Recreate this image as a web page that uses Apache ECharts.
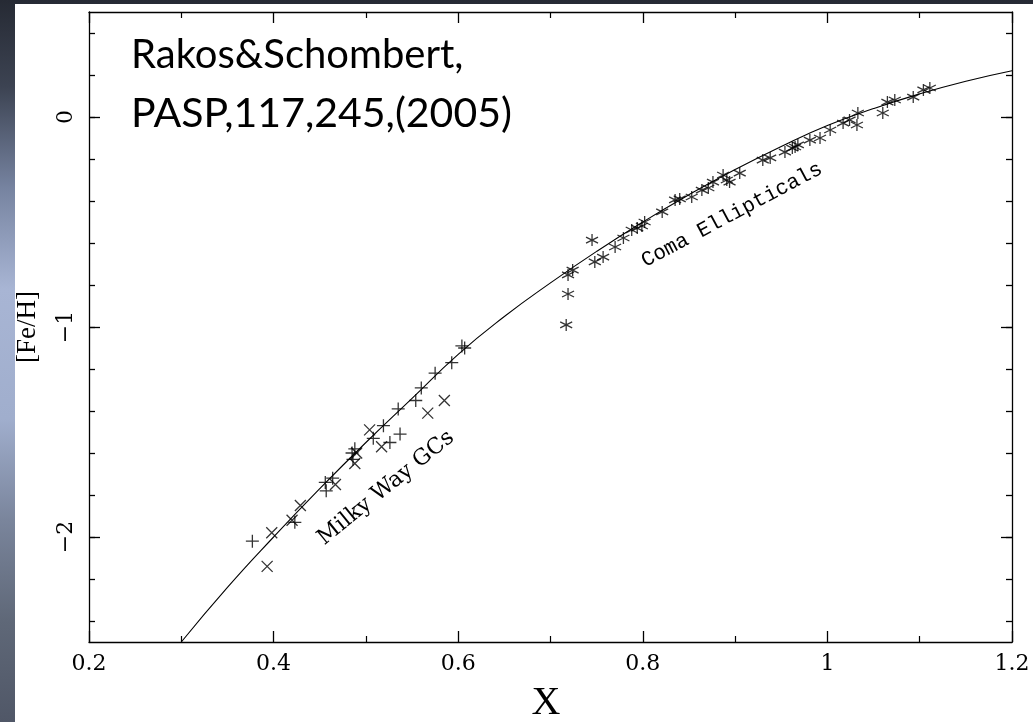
<!DOCTYPE html>
<html>
<head>
<meta charset="utf-8">
<script src="https://cdn.jsdelivr.net/npm/echarts@6/dist/echarts.min.js"></script>
<style>
  html, body { margin: 0; padding: 0; width: 1033px; height: 722px; overflow: hidden; }
  body { background: linear-gradient(to bottom, #262a34 0%, #3c4352 12%, #7683a0 26%, #a8b5d4 40%, #a0aecd 58%, #7a859c 72%, #5f6878 86%, #505767 100%); }
  #chart { position: absolute; left: 15px; top: 4px; width: 1018px; height: 718px; background: #ffffff; }
</style>
</head>
<body>
<div id="chart"></div>
<script>
// Fitted relation
const curveX = [0.30, 0.35, 0.40, 0.45, 0.50, 0.55, 0.60, 0.65, 0.70, 0.75, 0.80, 0.85, 0.90, 0.95, 1.00, 1.05, 1.10, 1.15, 1.20];
const curveY = [-2.50, -2.24, -2.00, -1.77, -1.55, -1.34, -1.13, -0.95, -0.79, -0.64, -0.50, -0.37, -0.25, -0.14, -0.04, 0.04, 0.11, 0.17, 0.22];

// Milky Way globular clusters, "+" symbols
const gcPlus = [
  [0.377, -2.02], [0.423, -1.93], [0.456, -1.74], [0.457, -1.78], [0.464, -1.72],
  [0.485, -1.60], [0.486, -1.63], [0.488, -1.58], [0.508, -1.53], [0.519, -1.47],
  [0.526, -1.55], [0.535, -1.39], [0.537, -1.51], [0.554, -1.35], [0.560, -1.29],
  [0.575, -1.22], [0.593, -1.17], [0.604, -1.09], [0.607, -1.10]
];
// Milky Way globular clusters, "x" symbols
const gcCross = [
  [0.398, -1.98], [0.393, -2.14], [0.420, -1.92], [0.429, -1.85], [0.467, -1.75],
  [0.490, -1.60], [0.488, -1.65], [0.504, -1.49], [0.517, -1.57], [0.567, -1.41],
  [0.585, -1.35]
];
// Coma ellipticals, "*" symbols
const comaStar = [
  [0.719, -0.843], [0.717, -0.990], [0.719, -0.752], [0.724, -0.729], [0.745, -0.586],
  [0.748, -0.690], [0.757, -0.667], [0.770, -0.619], [0.779, -0.576], [0.788, -0.538],
  [0.794, -0.529], [0.799, -0.519], [0.802, -0.500], [0.821, -0.452], [0.835, -0.395],
  [0.840, -0.390], [0.853, -0.381], [0.864, -0.348], [0.871, -0.338], [0.876, -0.310],
  [0.887, -0.276], [0.891, -0.300], [0.894, -0.310], [0.905, -0.267], [0.930, -0.205],
  [0.938, -0.195], [0.954, -0.167], [0.962, -0.148], [0.965, -0.143], [0.968, -0.133],
  [0.981, -0.110], [0.992, -0.100], [1.003, -0.062], [1.017, -0.029], [1.024, -0.014],
  [1.032, -0.038], [1.033, 0.019], [1.060, 0.019], [1.065, 0.071], [1.073, 0.081],
  [1.093, 0.095], [1.104, 0.129], [1.111, 0.138]
];

const yMajorTicks = [-2, -1, 0];
const yTickLabels = ['\u22122', '\u22121', '0'];
const yMinorTicks = [-2.4, -2.2, -2.0, -1.8, -1.6, -1.4, -1.2, -1.0, -0.8, -0.6, -0.4, -0.2, 0, 0.2, 0.4];
const xTickLabels = { '0.2': '0.2', '0.4': '0.4', '0.6': '0.6', '0.8': '0.8', '1': '1', '1.2': '1.2' };

const chart = echarts.init(document.getElementById('chart'), null, { renderer: 'canvas' });

const axisLineStyle = { color: '#000', width: 1.3 };
const tickFont = { fontFamily: 'DejaVu Serif', fontSize: 22, color: '#000' };

function xAx(pos, labels) {
  return {
    type: 'value', position: pos, min: 0.2, max: 1.2, interval: 0.2,
    axisLine: { show: true, onZero: false, lineStyle: axisLineStyle },
    axisTick: { show: true, inside: true, length: 11, lineStyle: { color: '#000', width: 1.3 } },
    minorTick: { show: true, splitNumber: 2, length: 6, lineStyle: { color: '#000', width: 1.2 } },
    splitLine: { show: false }, minorSplitLine: { show: false },
    axisLabel: labels ? Object.assign({ show: true, margin: 11, formatter: v => xTickLabels[String(+v.toFixed(1))] || '' }, tickFont) : { show: false }
  };
}
function yAx(pos, major, labels) {
  return {
    type: 'value', position: pos, min: -2.5, max: 0.5,
    axisLine: { show: major, onZero: false, lineStyle: axisLineStyle },
    axisTick: { show: true, inside: true, length: major ? 11 : 6, customValues: major ? yMajorTicks : yMinorTicks, lineStyle: { color: '#000', width: 1.3 } },
    splitLine: { show: false },
    axisLabel: labels ? Object.assign({ show: true, rotate: 90, margin: 12, customValues: yMajorTicks,
      formatter: v => yTickLabels[yMajorTicks.indexOf(Math.round(v))] || '' }, tickFont) : { show: false }
  };
}

const plusPath = 'path://M0,6 L12,6 M6,0 L6,12';
const crossPath = 'path://M0,0 L10,10 M0,10 L10,0';
const starPath = 'path://M6,0 L6,12 M0.8,3 L11.2,9 M0.8,9 L11.2,3';

function markerSeries(name, data, path, size) {
  return {
    name, type: 'scatter', data, symbol: path, symbolSize: size,
    itemStyle: { color: 'rgba(0,0,0,0)', borderColor: '#000', borderWidth: 1.3 },
    emphasis: { disabled: true }, silent: true, z: 3
  };
}

chart.setOption({
  animation: false,
  backgroundColor: '#ffffff',
  grid: { left: 74, top: 8, right: 21, bottom: 80, containLabel: false },
  xAxis: [xAx('bottom', true), xAx('top', false)],
  yAxis: [yAx('left', true, true), yAx('left', false, false), yAx('right', true, false), yAx('right', false, false)],
  series: [
    {
      name: 'fit', type: 'line', smooth: true, showSymbol: false, symbol: 'none',
      data: curveX.map((x, i) => [x, curveY[i]]),
      lineStyle: { color: '#000', width: 1.1 }, silent: true, z: 2
    },
    markerSeries('MW GCs +', gcPlus, plusPath, 13),
    markerSeries('MW GCs x', gcCross, crossPath, 11),
    markerSeries('Coma Ellipticals', comaStar, starPath, 12)
  ],
  graphic: [
    { type: 'text', x: 116, y: 51, style: { text: 'Rakos&Schombert,', font: '40px Lato', fill: '#000', verticalAlign: 'middle' }, silent: true },
    { type: 'text', x: 116, y: 110, style: { text: 'PASP,117,245,(2005)', font: '41px Lato', fill: '#000', verticalAlign: 'middle' }, silent: true },
    { type: 'text', x: 13, y: 323, rotation: Math.PI / 2, style: { text: '[Fe/H]', font: '27px "Liberation Serif"', fill: '#000', align: 'center', verticalAlign: 'middle' }, silent: true },
    { type: 'text', x: 531, y: 699, style: { text: 'X', font: '40px "Liberation Serif"', fill: '#000', align: 'center', verticalAlign: 'middle' }, silent: true },
    { type: 'text', x: 371, y: 484, rotation: 39 * Math.PI / 180, style: { text: 'Milky Way GCs', font: '22px "DejaVu Serif"', fill: '#000', align: 'center', verticalAlign: 'middle' }, silent: true },
    { type: 'text', x: 717, y: 211, rotation: 28 * Math.PI / 180, style: { text: 'Coma Ellipticals', font: '21px "Liberation Mono"', fill: '#000', align: 'center', verticalAlign: 'middle' }, silent: true }
  ]
});
</script>
</body>
</html>
